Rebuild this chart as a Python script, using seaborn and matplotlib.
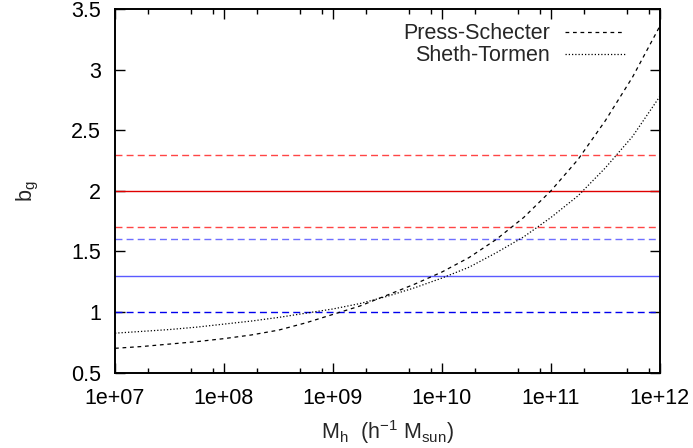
import numpy as np
import pandas as pd
import matplotlib
matplotlib.use("Agg")
import matplotlib.pyplot as plt
from matplotlib.ticker import LogLocator, FixedLocator, FuncFormatter, NullFormatter
import seaborn as sns

# Halo mass grid (log10 of M_h in h^-1 M_sun)
log_mass = [7.0, 7.25, 7.5, 7.75, 8.0, 8.25, 8.5, 8.75, 9.0, 9.25, 9.5,
            9.75, 10.0, 10.25, 10.5, 10.75, 11.0, 11.25, 11.5, 11.75, 12.0]

# Linear halo bias for the two mass functions
bias_press_schechter = [0.70, 0.715, 0.735, 0.755, 0.78, 0.81, 0.85, 0.91, 0.98, 1.05, 1.14,
                        1.23, 1.33, 1.45, 1.60, 1.78, 2.00, 2.26, 2.58, 2.94, 3.36]
bias_sheth_tormen = [0.825, 0.84, 0.855, 0.875, 0.90, 0.925, 0.955, 0.99, 1.025, 1.07, 1.13,
                     1.20, 1.28, 1.37, 1.49, 1.62, 1.78, 1.96, 2.19, 2.45, 2.78]

# Measured galaxy bias: lower bound, central value, upper bound
red_bias = [1.7, 2.0, 2.3]
blue_bias = [1.0, 1.3, 1.6]

series_labels = ["Press-Schecter", "Sheth-Tormen"]
x_tick_values = [1e7, 1e8, 1e9, 1e10, 1e11, 1e12]
y_tick_values = [0.5, 1.0, 1.5, 2.0, 2.5, 3.0, 3.5]

mass = [10 ** v for v in log_mass]
df = pd.DataFrame({
    "mass": mass * 2,
    "bias": bias_press_schechter + bias_sheth_tormen,
    "model": [series_labels[0]] * len(mass) + [series_labels[1]] * len(mass),
})

sns.set_style("ticks")
plt.rcParams["font.family"] = ["Liberation Sans", "DejaVu Sans"]
plt.rcParams["mathtext.fontset"] = "custom"
plt.rcParams["mathtext.rm"] = "Liberation Sans"

FS = 15.5

fig = plt.figure(figsize=(6.93, 4.48), dpi=100)
ax = fig.add_axes([0.166, 0.1685, 0.786, 0.8105])

# Observed bias bands
ax.axhline(red_bias[2], color="#ff4545", lw=1.0, dashes=(5, 3))
ax.axhline(red_bias[1], color="#e00000", lw=1.0)
ax.axhline(red_bias[0], color="#ff4545", lw=1.0, dashes=(5, 3))
ax.axhline(blue_bias[2], color="#6f6fff", lw=1.0, dashes=(5, 3))
ax.axhline(blue_bias[1], color="#5a5aff", lw=1.0)
ax.axhline(blue_bias[0], color="#0000ee", lw=1.0, dashes=(5, 3))

sns.lineplot(data=df, x="mass", y="bias", hue="model", style="model",
             palette={series_labels[0]: "black", series_labels[1]: "black"},
             dashes={series_labels[0]: (3, 3), series_labels[1]: (1, 1.6)},
             linewidth=0.9, ax=ax, legend=True, sort=True)

ax.set_xscale("log")
ax.set_xlim(1e7, 1e12)
ax.set_ylim(0.5, 3.5)

ax.xaxis.set_major_locator(FixedLocator(x_tick_values))
ax.xaxis.set_major_formatter(FuncFormatter(lambda v, p: "%.0e" % v))
ax.xaxis.set_minor_locator(LogLocator(base=10, subs=[2, 5, 8], numticks=20))
ax.xaxis.set_minor_formatter(NullFormatter())
ax.yaxis.set_major_locator(FixedLocator(y_tick_values))
ax.yaxis.set_major_formatter(FuncFormatter(lambda v, p: "%g" % v))

ax.tick_params(which="both", direction="in", top=True, right=True,
               labelsize=FS, colors="black")
ax.tick_params(axis="y", pad=10)
ax.tick_params(axis="x", pad=11)
ax.tick_params(which="major", length=7, width=1.0)
ax.tick_params(which="minor", length=3.5, width=1.0)
for s in ax.spines.values():
    s.set_linewidth(1.4)
    s.set_color("black")

ax.set_xlabel(r"M$_\mathregular{h}$  (h$^\mathregular{-1}$ M$_\mathregular{sun}$)",
              fontsize=FS, labelpad=7)
ax.set_ylabel(r"b$_\mathregular{g}$", fontsize=FS, labelpad=22)

handles, labels = ax.get_legend_handles_labels()
ax.legend(handles, labels, loc="upper right", frameon=False, markerfirst=False,
          fontsize=FS, handlelength=2.8, handletextpad=0.7, labelspacing=0.05,
          borderaxespad=0.2, bbox_to_anchor=(0.96, 0.998))

fig.savefig("out.png", dpi=100)
